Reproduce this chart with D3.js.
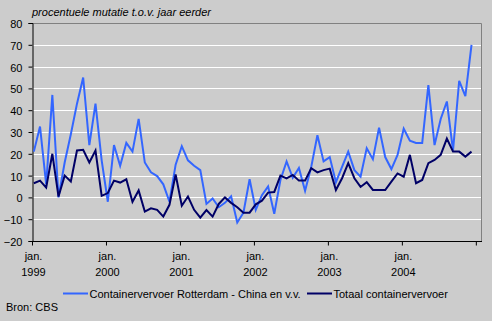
<!DOCTYPE html>
<html>
<head>
<meta charset="utf-8">
<script src="https://cdn.jsdelivr.net/npm/d3@7"></script>
<style>
  html, body { margin: 0; padding: 0; background: #cccccc; }
  svg { display: block; }
  text { font-family: "Liberation Sans", Arial, sans-serif; fill: #000; }
</style>
</head>
<body>
<svg id="chart" width="492" height="321"></svg>
<script>
// ---- data (monthly, jan. 1999 – dec. 2004) ----
const years = ["1999", "2000", "2001", "2002", "2003", "2004"];
const yTicks = [-20, -10, 0, 10, 20, 30, 40, 50, 60, 70, 80];
const seriesNames = ["Containervervoer Rotterdam - China en v.v.", "Totaal containervervoer"];

const china = [
  21, 32.5, 6, 47, 0, 16, 29, 43, 55, 24, 43, 17,
  -2, 24, 14.5, 25, 21, 36, 16, 11.5, 9.8, 6, -2, 15,
  23.5, 17, 14.5, 12.5, -3, -0.5, -4.5, -2.5, 0.5, -11.5, -7, 8.3,
  -5.7, 1, 5, -7.5, 8, 16.5, 9, 13.5, 3, 14, 28.5, 16.5,
  18.5, 7, 14, 21, 12.5, 9.5, 22.5, 17.5, 32, 18.5, 13, 19.5,
  31.5, 26, 25, 25, 51.5, 24, 36, 44, 21.5, 53.5, 46.5, 70
];
const totaal = [
  6.5, 7.7, 4.5, 20, 0.4, 10, 7.3, 21.5, 21.8, 16, 21.5, 0.7,
  2, 7.7, 6.8, 8.3, -2, 3.2, -6.5, -5, -5.7, -8.8, -3.4, 10.5,
  -3.8, 0.4, -5.7, -9.3, -5.8, -8.8, -3, 0, -2.5, -4.5, -7, -7,
  -3.2, -1.5, 2.2, 2.5, 10, 8.7, 10.3, 7.7, 7.7, 13.4, 11.5, 12.5,
  13.2, 3.4, 8.8, 15.7, 8.8, 4.8, 7, 3.4, 3.4, 3.4, 7.2, 11,
  9.5, 19.5, 6.5, 8, 15.7, 17.2, 19.5, 27, 21, 21, 18.7, 21
];

// ---- layout ----
const L = 32, R = 482, T = 23, B = 241;
const svg = d3.select("#chart");

const x = d3.scaleLinear().domain([0, 73]).range([L, R]);
const y = d3.scaleLinear().domain([-20, 80]).range([B, T]);

// gridlines
svg.append("g").selectAll("line")
  .data(yTicks.filter(v => v > -20 && v < 80))
  .join("line")
  .attr("x1", L).attr("x2", R)
  .attr("y1", d => Math.round(y(d)) + 0.5).attr("y2", d => Math.round(y(d)) + 0.5)
  .attr("stroke", "#ffffff").attr("stroke-width", 1);

// plot border (top/right)
svg.append("path")
  .attr("d", `M${L},${T + 0.5}H${R - 0.5}V${B}`)
  .attr("fill", "none").attr("stroke", "#808080").attr("stroke-width", 1);

// y axis
const yAxis = d3.axisLeft(y).tickValues(yTicks).tickSize(4).tickPadding(6)
  .tickFormat(d3.format("d"));
const gy = svg.append("g").attr("transform", `translate(${L + 0.5},0)`).call(yAxis);
gy.select(".domain").attr("stroke", "#000");
gy.selectAll(".tick line").attr("stroke", "#000");
gy.selectAll(".tick text").style("font-size", "11px").attr("fill", "#000").attr("dy", "0.4em");

// x axis
const xAxis = d3.axisBottom(x).tickValues(d3.range(0, 73, 12)).tickSize(4).tickFormat("");
const gx = svg.append("g").attr("transform", `translate(0,${B + 0.5})`).call(xAxis);
gx.select(".domain").attr("stroke", "#000").attr("d", `M${L},0H${R}`);
gx.selectAll(".tick line").attr("stroke", "#000");

// x labels
const xl = svg.append("g");
years.forEach((yr, k) => {
  const cx = x(k * 12) + 1.5;
  xl.append("text").attr("x", cx).attr("y", 260).attr("text-anchor", "middle")
    .style("font-size", "11px").text("jan.");
  xl.append("text").attr("x", cx).attr("y", 276).attr("text-anchor", "middle")
    .style("font-size", "11px").text(yr);
});

// lines
const line = d3.line().x((d, i) => x(i + 0.3)).y(d => y(d));
svg.append("path").datum(china).attr("d", line)
  .attr("fill", "none").attr("stroke", "#3366ff").attr("stroke-width", 2)
  .attr("stroke-linejoin", "miter");
svg.append("path").datum(totaal).attr("d", line)
  .attr("fill", "none").attr("stroke", "#000066").attr("stroke-width", 2)
  .attr("stroke-linejoin", "miter");

// title
svg.append("text").attr("x", 32).attr("y", 16)
  .style("font-size", "11px").style("font-style", "italic")
  .text("procentuele mutatie t.o.v. jaar eerder");

// legend
const lg = svg.append("g");
const legendItems = [
  { name: seriesNames[0], color: "#3366ff", x0: 63, x1: 88, tx: 89.5 },
  { name: seriesNames[1], color: "#000066", x0: 307, x1: 332, tx: 333.5 }
];
legendItems.forEach(it => {
  lg.append("line").attr("x1", it.x0).attr("x2", it.x1).attr("y1", 293.5).attr("y2", 293.5)
    .attr("stroke", it.color).attr("stroke-width", 2);
  lg.append("text").attr("x", it.tx).attr("y", 297.5).style("font-size", "11px").text(it.name);
});

// source
svg.append("text").attr("x", 6).attr("y", 311).style("font-size", "11px").text("Bron: CBS");
</script>
</body>
</html>
